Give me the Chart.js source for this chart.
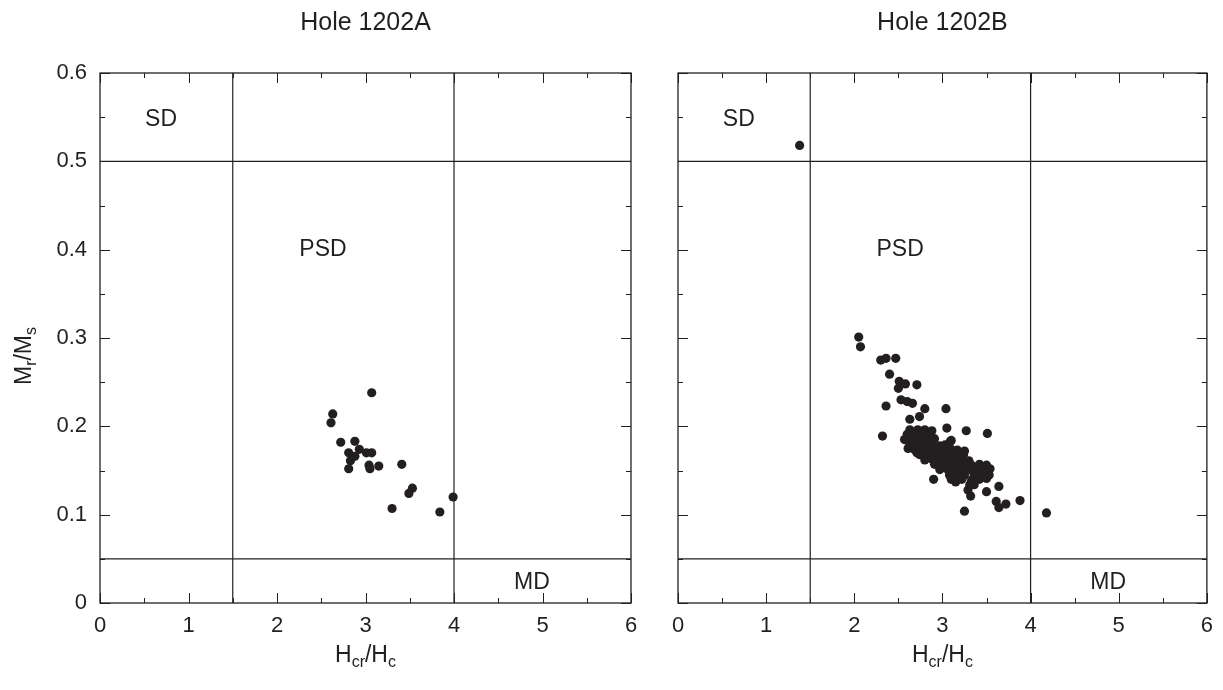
<!DOCTYPE html>
<html>
<head>
<meta charset="utf-8">
<script src="https://cdn.jsdelivr.net/npm/chart.js@4.4.1/dist/chart.umd.min.js"></script>
<style>
  html, body { margin: 0; padding: 0; background: #ffffff; }
  #wrap { position: relative; width: 1223px; height: 690px; }
  #cA { position: absolute; left: 0; top: 0; }
  #cB { position: absolute; left: 650px; top: 0; }
</style>
</head>
<body>
<div id="wrap">
  <canvas id="cA" width="650" height="690"></canvas>
  <canvas id="cB" width="573" height="690"></canvas>
</div>
<script>
// ---------- data ----------
const panelTitles = ['Hole 1202A', 'Hole 1202B'];
const regionNames = ['SD', 'PSD', 'MD'];
const boundaryX = [1.5, 4];      // Hcr/Hc boundaries
const boundaryY = [0.5, 0.05];   // Mr/Ms boundaries

const holeA_x = [3.07, 2.63, 2.61, 2.72, 2.88, 2.81, 2.93, 2.88, 3.01, 3.07, 2.83, 2.81, 3.04, 3.05, 3.15, 3.41, 3.53, 3.49, 3.30, 3.84, 3.99];
const holeA_y = [0.238, 0.214, 0.204, 0.182, 0.183, 0.170, 0.174, 0.166, 0.170, 0.170, 0.161, 0.152, 0.156, 0.152, 0.155, 0.157, 0.130, 0.124, 0.107, 0.103, 0.120];

const holeB_x = [
  1.38,
  2.05, 2.07, 2.30, 2.36, 2.47, 2.40, 2.51, 2.58, 2.50, 2.71, 2.53, 2.60, 2.66, 2.36, 2.80, 3.04, 2.63, 2.74, 3.05, 3.27, 3.51, 2.32,
  2.90, 3.64, 3.29, 3.32, 3.50, 3.61, 3.64, 3.72, 3.88, 3.25, 4.18, 3.54, 3.15, 3.09, 3.10, 2.61, 2.71,
  2.63, 2.72, 2.80, 2.88,
  2.60, 2.68, 2.76, 2.85,
  2.57, 2.65, 2.74, 2.83, 2.91,
  2.63, 2.72, 2.80, 2.88, 2.97, 3.03,
  2.68, 2.76, 2.85, 2.94, 3.02, 3.10, 3.17, 3.25,
  2.74, 2.83, 2.91, 2.99, 3.08, 3.17, 3.24,
  2.80, 2.88, 2.97, 3.06, 3.14, 3.22, 3.30,
  2.91, 2.99, 3.08, 3.17, 3.25, 3.33, 3.42, 3.50,
  2.97, 3.06, 3.14, 3.22, 3.31, 3.40, 3.48, 3.52,
  3.08, 3.17, 3.25, 3.36, 3.44, 3.53,
  3.10, 3.22, 3.33, 3.42, 3.50,
  3.31, 3.36
];
const holeB_y = [
  0.518,
  0.301, 0.290, 0.275, 0.277, 0.277, 0.259, 0.251, 0.248, 0.243, 0.247, 0.230, 0.228, 0.226, 0.223, 0.220, 0.220, 0.208, 0.211, 0.198, 0.195, 0.192, 0.189,
  0.140, 0.132, 0.128, 0.121, 0.126, 0.115, 0.108, 0.112, 0.116, 0.104, 0.102, 0.152, 0.137, 0.183, 0.184, 0.175, 0.170,
  0.196, 0.196, 0.196, 0.195,
  0.191, 0.190, 0.191, 0.190,
  0.185, 0.185, 0.184, 0.185, 0.186,
  0.179, 0.180, 0.179, 0.179, 0.178, 0.179,
  0.174, 0.173, 0.174, 0.174, 0.173, 0.174, 0.173, 0.172,
  0.168, 0.168, 0.167, 0.168, 0.168, 0.167, 0.168,
  0.162, 0.163, 0.162, 0.162, 0.163, 0.162, 0.161,
  0.157, 0.157, 0.156, 0.157, 0.157, 0.156, 0.157, 0.156,
  0.151, 0.151, 0.152, 0.151, 0.151, 0.150, 0.151, 0.150,
  0.145, 0.146, 0.145, 0.145, 0.146, 0.145,
  0.140, 0.140, 0.139, 0.140, 0.141,
  0.134, 0.134
];

// ---------- styling ----------
const INK = '#231f20';
const FONT = '"Liberation Sans", Arial, Helvetica, sans-serif';

function pts(xs, ys) { return xs.map((x, i) => ({ x: x, y: ys[i] })); }
function boundaryDatasets() {
  const ds = [];
  boundaryX.forEach(bx => ds.push({ type: 'line', data: [{x: bx, y: 0}, {x: bx, y: 0.6}] }));
  boundaryY.forEach(by => ds.push({ type: 'line', data: [{x: 0, y: by}, {x: 6, y: by}] }));
  return ds.map(d => Object.assign(d, { borderColor: INK, borderWidth: 1.2, pointRadius: 0, order: 2, fill: false }));
}

function drawSubText(ctx, parts, cx, cy, size) {
  const small = Math.round(size * 0.7);
  let w = 0;
  parts.forEach(p => { ctx.font = (p[1] ? small : size) + 'px ' + FONT; w += ctx.measureText(p[0]).width; });
  let x = cx - w / 2;
  ctx.textAlign = 'left';
  ctx.textBaseline = 'alphabetic';
  parts.forEach(p => {
    ctx.font = (p[1] ? small : size) + 'px ' + FONT;
    ctx.fillText(p[0], x, cy + (p[1] ? 5 : 0));
    x += ctx.measureText(p[0]).width;
  });
}

function makePlugin(idx) {
  return {
    id: 'decor' + idx,
    afterDraw(chart) {
      const ctx = chart.ctx;
      const xs = chart.scales.x, ys = chart.scales.y;
      const a = chart.chartArea;
      ctx.save();
      ctx.strokeStyle = INK;
      ctx.fillStyle = INK;
      ctx.lineWidth = 1.3;
      ctx.strokeRect(a.left, a.top, a.right - a.left, a.bottom - a.top);
      ctx.lineWidth = 1;
      ctx.beginPath();
      for (let i = 0; i <= 12; i++) {
        const v = i * 0.5;
        const L = (i % 2 === 0) ? 10 : 5;
        const px = Math.round(xs.getPixelForValue(v)) + 0.5;
        ctx.moveTo(px, a.bottom); ctx.lineTo(px, a.bottom - L);
        ctx.moveTo(px, a.top); ctx.lineTo(px, a.top + L);
      }
      for (let i = 0; i <= 12; i++) {
        const v = i * 0.05;
        const L = (i % 2 === 0) ? 10 : 5;
        const py = Math.round(ys.getPixelForValue(v)) + 0.5;
        ctx.moveTo(a.left, py); ctx.lineTo(a.left + L, py);
        ctx.moveTo(a.right, py); ctx.lineTo(a.right - L, py);
      }
      ctx.stroke();
      // region labels
      ctx.font = '23px ' + FONT;
      ctx.textAlign = 'center';
      ctx.textBaseline = 'middle';
      const labelPos = [[0.69, 0.547], [2.52, 0.400], [4.88, 0.023]];
      regionNames.forEach((t, i) => {
        ctx.fillText(t, xs.getPixelForValue(labelPos[i][0]), ys.getPixelForValue(labelPos[i][1]));
      });
      // panel title
      ctx.font = '25px ' + FONT;
      ctx.fillText(panelTitles[idx], (a.left + a.right) / 2, 23);
      // x axis title
      drawSubText(ctx, [['H', false], ['cr', true], ['/H', false], ['c', true]], (a.left + a.right) / 2, 662, 23);
      // y axis title (left panel only)
      if (idx === 0) {
        ctx.save();
        ctx.translate(31, 356);
        ctx.rotate(-Math.PI / 2);
        drawSubText(ctx, [['M', false], ['r', true], ['/M', false], ['s', true]], 0, 0, 23);
        ctx.restore();
      }
      ctx.restore();
    }
  };
}

function makeChart(canvasId, idx, xs, ys, yAxisWidth, padRight) {
  const datasets = boundaryDatasets();
  datasets.push({
    type: 'scatter',
    data: pts(xs, ys),
    pointRadius: 4.6,
    pointHoverRadius: 4.6,
    backgroundColor: INK,
    borderWidth: 0,
    order: 1
  });
  return new Chart(document.getElementById(canvasId), {
    type: 'scatter',
    data: { datasets: datasets },
    options: {
      responsive: false,
      animation: false,
      devicePixelRatio: 1,
      layout: { padding: { left: 0, top: 73, right: padRight, bottom: 0 } },
      plugins: { legend: { display: false }, tooltip: { enabled: false }, title: { display: false } },
      scales: {
        x: {
          type: 'linear', min: 0, max: 6,
          afterFit: s => { s.height = 87; },
          grid: { display: false, drawTicks: false },
          border: { display: false },
          ticks: { stepSize: 1, padding: 10, color: INK, font: { size: 22, family: FONT } }
        },
        y: {
          type: 'linear', min: 0, max: 0.6,
          afterFit: s => { s.width = yAxisWidth; },
          grid: { display: false, drawTicks: false },
          border: { display: false },
          ticks: { display: idx === 0, stepSize: 0.1, padding: 13, color: INK, font: { size: 22, family: FONT } }
        }
      }
    },
    plugins: [makePlugin(idx)]
  });
}

makeChart('cA', 0, holeA_x, holeA_y, 100, 19);
makeChart('cB', 1, holeB_x, holeB_y, 28, 15);
</script>
</body>
</html>
